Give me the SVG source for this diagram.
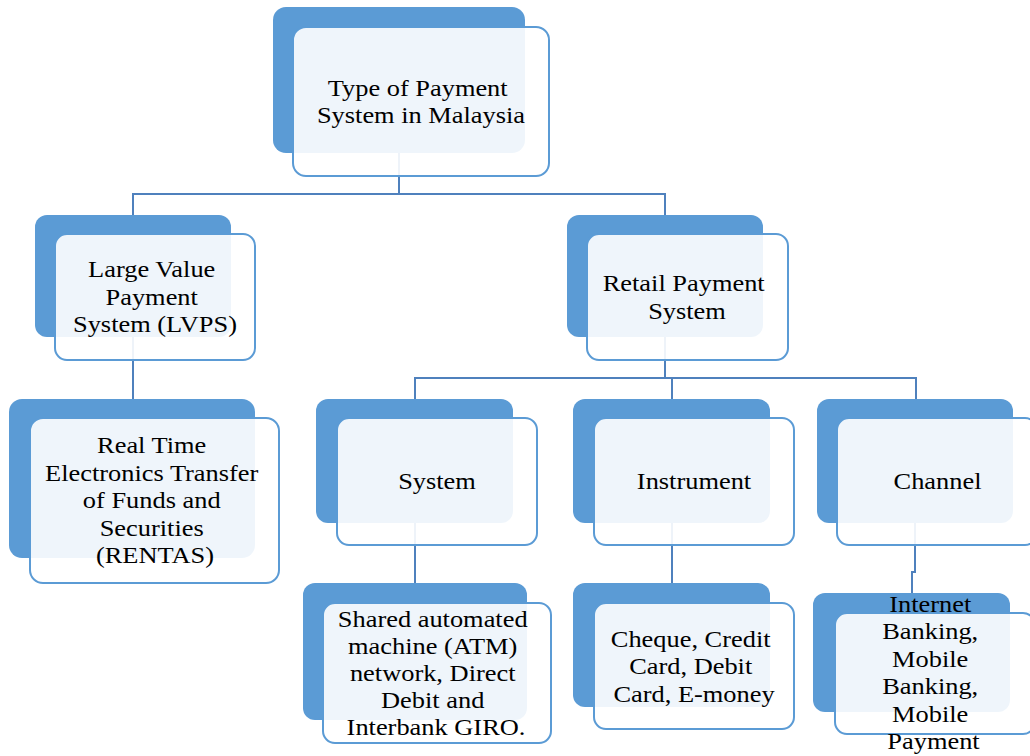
<svg xmlns="http://www.w3.org/2000/svg" width="1030" height="756" viewBox="0 0 1030 756">
  <style>
    .back { fill: #5B9BD5; }
    .front { fill: #FFFFFF; fill-opacity: 0.9; stroke: #5B9BD5; stroke-width: 2; }
    .link { fill: none; stroke: #4F81BD; stroke-width: 2; }
    .label { font-family: "Liberation Serif", "Times New Roman", serif; font-size: 24px; fill: #000; text-anchor: middle; }
  </style>
  <rect width="1030" height="756" fill="#FFFFFF"/>

  <!-- connectors (drawn beneath the cards) -->
  <g id="connectors">
    <path class="link" d="M399,153 V194 M133,194 H665 M133,193 V215 M665,193 V215"/>
    <path class="link" d="M133,337 V399"/>
    <path class="link" d="M665,337 V378 M415,378 H916 M415,377 V399 M672,377 V399 M916,377 V399"/>
    <path class="link" d="M415,523 V583"/>
    <path class="link" d="M672,523 V583"/>
    <path class="link" d="M915,523 V572 H912 V593"/>
  </g>

  <g id="node-root">
    <rect class="back" x="273" y="7" width="252" height="146" rx="13"/>
    <rect class="front" x="293" y="27" width="256" height="149" rx="13"/>
    <text class="label" transform="translate(421,0) scale(1.1,1)">
      <tspan x="0" y="96">Type of Payment</tspan>
      <tspan x="0" y="123.5">System in Malaysia</tspan>
    </text>
  </g>

  <g id="node-lvps">
    <rect class="back" x="35" y="215" width="196" height="122" rx="12"/>
    <rect class="front" x="55" y="234" width="200" height="126" rx="12"/>
    <text class="label" transform="translate(155,0) scale(1.1,1)">
      <tspan x="0" y="277.5">Large Value</tspan>
      <tspan x="0" y="305">Payment</tspan>
      <tspan x="0" y="332.5">System (LVPS)</tspan>
    </text>
  </g>

  <g id="node-retail">
    <rect class="back" x="567" y="215" width="196" height="122" rx="12"/>
    <rect class="front" x="587" y="234" width="201" height="126" rx="12"/>
    <text class="label" transform="translate(687,0) scale(1.1,1)">
      <tspan x="0" y="291.5">Retail Payment</tspan>
      <tspan x="0" y="319">System</tspan>
    </text>
  </g>

  <g id="node-rentas">
    <rect class="back" x="9" y="399" width="246" height="159" rx="13"/>
    <rect class="front" x="30" y="418" width="249" height="165" rx="13"/>
    <text class="label" transform="translate(155,0) scale(1.1,1)">
      <tspan x="0" y="453.5">Real Time</tspan>
      <tspan x="0" y="481">Electronics Transfer</tspan>
      <tspan x="0" y="508.5">of Funds and</tspan>
      <tspan x="0" y="536">Securities</tspan>
      <tspan x="0" y="563.5">(RENTAS)</tspan>
    </text>
  </g>

  <g id="node-system">
    <rect class="back" x="316" y="399" width="197" height="124" rx="12"/>
    <rect class="front" x="337" y="418" width="200" height="127" rx="12"/>
    <text class="label" transform="translate(437,0) scale(1.1,1)">
      <tspan x="0" y="489.5">System</tspan>
    </text>
  </g>

  <g id="node-instrument">
    <rect class="back" x="573" y="399" width="197" height="124" rx="12"/>
    <rect class="front" x="594" y="418" width="200" height="127" rx="12"/>
    <text class="label" transform="translate(694,0) scale(1.1,1)">
      <tspan x="0" y="489.5">Instrument</tspan>
    </text>
  </g>

  <g id="node-channel">
    <rect class="back" x="817" y="399" width="196" height="124" rx="12"/>
    <rect class="front" x="837" y="418" width="200" height="127" rx="12"/>
    <text class="label" transform="translate(937.5,0) scale(1.1,1)">
      <tspan x="0" y="489.5">Channel</tspan>
    </text>
  </g>

  <g id="node-atm">
    <rect class="back" x="303" y="583" width="224" height="137" rx="12"/>
    <rect class="front" x="323" y="603" width="228" height="140" rx="12"/>
    <text class="label" transform="translate(436,0) scale(1.1,1)">
      <tspan x="0" y="627">Shared automated</tspan>
      <tspan x="0" y="654">machine (ATM)</tspan>
      <tspan x="0" y="681">network, Direct</tspan>
      <tspan x="0" y="708">Debit and</tspan>
      <tspan x="0" y="735">Interbank GIRO.</tspan>
    </text>
  </g>

  <g id="node-cheque">
    <rect class="back" x="573" y="583" width="197" height="124" rx="12"/>
    <rect class="front" x="594" y="603" width="200" height="126" rx="12"/>
    <text class="label" transform="translate(694,0) scale(1.1,1)">
      <tspan x="0" y="647">Cheque, Credit</tspan>
      <tspan x="0" y="674.5">Card, Debit</tspan>
      <tspan x="0" y="702">Card, E-money</tspan>
    </text>
  </g>

  <g id="node-internet">
    <rect class="back" x="813" y="593" width="197" height="119" rx="12"/>
    <rect class="front" x="835" y="613" width="200" height="121" rx="12"/>
    <text class="label" transform="translate(933.5,0) scale(1.1,1)">
      <tspan x="0" y="612">Internet</tspan>
      <tspan x="0" y="639.5">Banking,</tspan>
      <tspan x="0" y="667">Mobile</tspan>
      <tspan x="0" y="694.5">Banking,</tspan>
      <tspan x="0" y="722">Mobile</tspan>
      <tspan x="0" y="749.5">Payment</tspan>
    </text>
  </g>
</svg>
